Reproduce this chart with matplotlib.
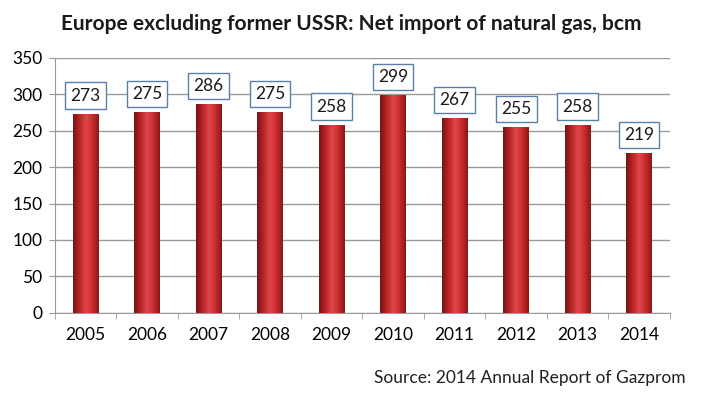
import numpy as np
import matplotlib.pyplot as plt
from matplotlib.colors import LinearSegmentedColormap

# data
years = ["2005", "2006", "2007", "2008", "2009", "2010", "2011", "2012", "2013", "2014"]
net_import = [273, 275, 286, 275, 258, 299, 267, 255, 258, 219]

plt.rcParams["font.family"] = ["Lato", "DejaVu Sans"]

fig = plt.figure(figsize=(7.03, 3.96), dpi=100)
ax = fig.add_axes([0.078, 0.21, 0.875, 0.644])

x = np.arange(len(years))
w = 0.42

# cylinder look: horizontal gradient dark-light-dark inside each bar
cmap = LinearSegmentedColormap.from_list(
    "cyl", ["#7a1414", "#b82427", "#e0474a", "#c92c30", "#8a1818"])
grad = np.linspace(0, 1, 64).reshape(1, -1)
bars = ax.bar(x, net_import, width=w, color="#c0282c", zorder=2)
for b in bars:
    ax.imshow(grad, cmap=cmap, aspect="auto", zorder=3,
              extent=(b.get_x(), b.get_x() + b.get_width(), 0, b.get_height()))

for xi, v in zip(x, net_import):
    ax.text(xi, v + 25, str(v), ha="center", va="center", fontsize=12.5,
            color="#1a1a1a", zorder=5,
            bbox=dict(boxstyle="square,pad=0.3", fc="white", ec="#5b7fa8", lw=1))

ax.set_xlim(-0.5, len(years) - 0.5)
ax.set_ylim(0, 350)
ax.set_yticks(range(0, 351, 50))
ax.yaxis.grid(True, color="#9a9a9a", lw=1)
ax.set_axisbelow(True)

ax.set_xticks(x)
ax.set_xticklabels(years)
ax.set_xticks(np.arange(-0.5, len(years)), minor=True)
ax.tick_params(axis="x", which="major", length=0, pad=10, labelsize=12.5)
ax.tick_params(axis="x", which="minor", length=4, color="#9a9a9a")
ax.tick_params(axis="y", length=4, color="#9a9a9a", labelsize=12.5, pad=5)

for s in ["top", "right"]:
    ax.spines[s].set_visible(False)
for s in ["left", "bottom"]:
    ax.spines[s].set_color("#9a9a9a")

fig.text(0.5, 0.94, "Europe excluding former USSR: Net import of natural gas, bcm",
         ha="center", va="center", fontsize=15, fontweight="bold", color="#1a1a1a")
fig.text(0.975, 0.045, "Source: 2014 Annual Report of Gazprom",
         ha="right", va="center", fontsize=12.5, color="#202020")

fig.savefig("out.png", dpi=100)
